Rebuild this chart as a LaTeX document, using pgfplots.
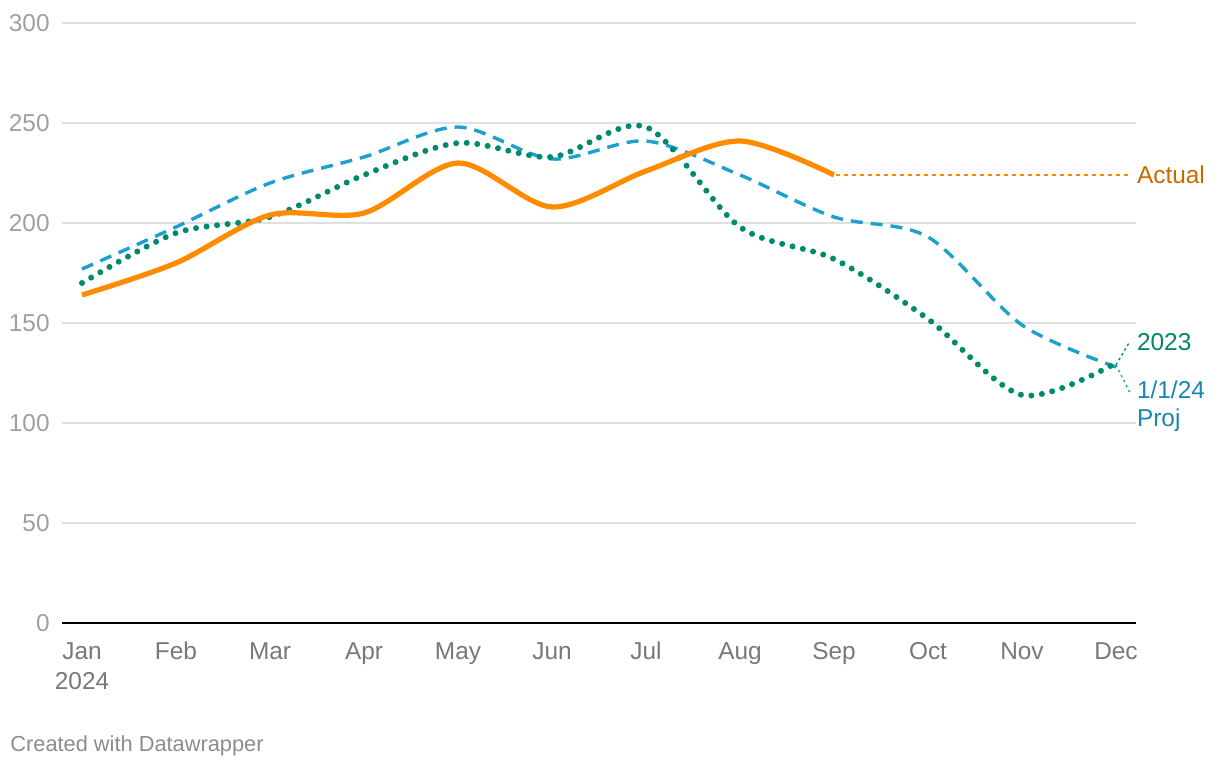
\documentclass[border=0pt]{standalone}
\usepackage{pgfplots}
\pgfplotsset{compat=1.18}
\usepackage{fontspec}
\setmainfont{Liberation Sans}
\definecolor{cOrange}{RGB}{255,140,0}
\definecolor{cOrangeT}{RGB}{200,105,0}
\definecolor{cBlue}{RGB}{28,160,208}
\definecolor{cBlueT}{RGB}{24,134,176}
\definecolor{cGreen}{RGB}{0,138,108}
\definecolor{cGreenT}{RGB}{0,133,106}
\definecolor{cGrid}{RGB}{224,224,224}
\definecolor{cYT}{RGB}{160,160,160}
\definecolor{cXT}{RGB}{120,120,120}
\begin{document}
\begin{tikzpicture}
\useasboundingbox (0,0) rectangle (610pt,385pt);
\begin{axis}[
  at={(31pt,73.5pt)}, anchor=south west,
  scale only axis, width=537pt, height=300pt,
  xmin=-0.213, xmax=11.213, ymin=0, ymax=300,
  clip=false,
  axis line style={draw=none},
  xtick={0,...,11},
  xticklabels={Jan,Feb,Mar,Apr,May,Jun,Jul,Aug,Sep,Oct,Nov,Dec},
  xticklabel style={anchor=north, text=cXT, font=\fontsize{12.2}{14}\selectfont, text height=9pt, text depth=2.5pt, inner sep=0pt, yshift=-9pt},
  ytick={0,50,...,300},
  yticklabel style={text=cYT, font=\fontsize{12.2}{14}\selectfont, anchor=east, inner sep=0pt, xshift=-6pt},
  /pgf/number format/assume math mode=true,
  major tick length=0pt,
  ymajorgrids, grid style={cGrid, line width=0.6pt},
  tick style={draw=none},
]
\draw[black, line width=1pt] (axis cs:-0.213,0) -- (axis cs:11.213,0);
% 1/1/24 Proj
\addplot[cBlue, line width=1.7pt, dash pattern=on 6pt off 4pt, smooth, tension=0.5] coordinates {
(0,177) (1,198) (2,220) (3,233) (4,248) (5,232) (6,241) (7,224) (8,203) (9,193) (10,149) (11,128)};
% 2023
\addplot[cGreen, line width=3pt, line cap=round, dash pattern=on 0pt off 5.3pt, smooth, tension=0.5] coordinates {
(0,170) (1,195) (2,203) (3,224) (4,240) (5,233) (6,248) (7,198) (8,182) (9,152) (10,114) (11,130)};
% Actual
\addplot[cOrange, line width=2.6pt, smooth, tension=0.5] coordinates {
(0,164) (1,180) (2,204) (3,205) (4,230) (5,208) (6,226) (7,241) (8,224)};
\draw[cOrange, line width=0.7pt, dash pattern=on 2pt off 2pt] (axis cs:8.02,224) -- (axis cs:11.13,224);
\node[anchor=west, text=cOrangeT, font=\fontsize{12.2}{14}\selectfont, inner sep=0pt] at (axis cs:11.22,224) {Actual};
\draw[cGreen, line width=0.7pt, dash pattern=on 1.2pt off 1.6pt] (axis cs:11,129) -- (axis cs:11.15,141);
\draw[cBlue, line width=0.7pt, dash pattern=on 1.2pt off 1.6pt] (axis cs:11,129) -- (axis cs:11.15,115);
\node[anchor=west, text=cGreenT, font=\fontsize{12.2}{14}\selectfont, inner sep=0pt] at (axis cs:11.22,140.5) {2023};
\node[anchor=north west, text=cBlueT, font=\fontsize{12.2}{14}\selectfont, inner sep=0pt, align=left] at (axis cs:11.22,121.5) {1/1/24\\Proj};
\node[anchor=north, text=cXT, font=\fontsize{12.2}{14}\selectfont, text height=9pt, text depth=2.5pt, inner sep=0pt] at ([yshift=-24pt]axis cs:0,0) {2024};
\end{axis}
\node[anchor=west, text=cXT!85, font=\fontsize{10.9}{12}\selectfont, inner sep=0pt] at (5pt,12pt) {Created with Datawrapper};
\end{tikzpicture}
\end{document}
